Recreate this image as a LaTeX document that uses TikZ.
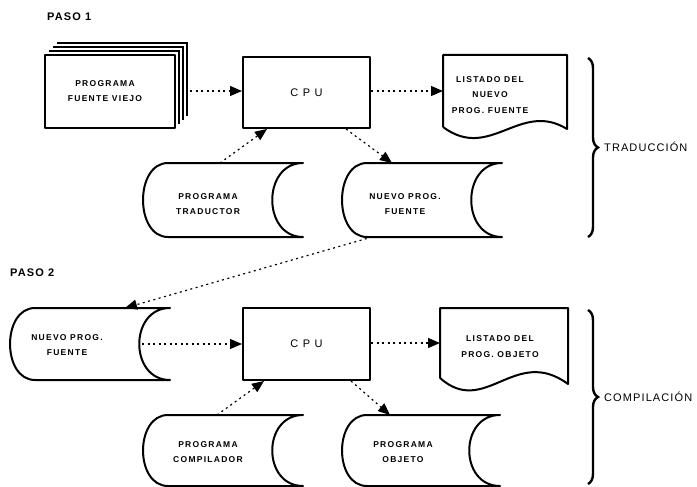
\documentclass[tikz,border=0pt]{standalone}
\usepackage{fontspec}
\setmainfont{Liberation Sans}
\newfontfamily\lblfont[LetterSpace=15]{Liberation Sans}
\newfontfamily\cpufont[LetterSpace=40]{Liberation Sans}
\newfontfamily\sidefont[LetterSpace=10]{Liberation Sans}
\usetikzlibrary{arrows.meta,calc,decorations.pathreplacing}

\tikzset{
  shapeline/.style={line width=2pt, line join=round},
  cpubox/.style={draw, shapeline, minimum width=127pt, minimum height=71pt, inner sep=0pt,
    font=\cpufont\fontsize{11}{13}\selectfont},
  frame/.style={inner sep=0pt, outer sep=0pt, draw=none},
  lbl/.style={align=center, inner sep=0pt, font=\lblfont\bfseries\fontsize{8.5}{15.5}\selectfont},
  conn/.style={line width=1.2pt, dash pattern=on 2pt off 3.5pt, -{Triangle[length=12pt,width=10pt]}},
  bracedeco/.style={line width=2.4pt, decorate, decoration={brace, amplitude=10pt}},
  steplbl/.style={anchor=west, inner sep=0pt, font=\sidefont\bfseries\fontsize{11}{13}\selectfont},
  sidelbl/.style={anchor=west, inner sep=0pt, font=\sidefont\fontsize{11}{13}\selectfont},
  sheet/.style={line width=1.2pt}
}

\newcommand\mytape[4]{\draw[shapeline] (#1+25,#2) -- (#3,#2) .. controls (#3-41,#2) and (#3-41,#4) .. (#3,#4) -- (#1+25,#4) .. controls (#1-8.3,#4) and (#1-8.3,#2) .. cycle;}

\begin{document}
\begin{tikzpicture}[x=1pt,y=-1pt]
\useasboundingbox (0,0) rectangle (697,487);
\fill[white] (0,0) rectangle (697,487);

% ---------------- PASO 1 ----------------
\node[steplbl] (paso1) at (47,17) {PASO 1};

% document stack
\draw[sheet] (57,43) -- (187,43) -- (187,116);
\draw[sheet] (53,47) -- (183,47) -- (183,120);
\draw[sheet] (49,51) -- (179,51) -- (179,124);
\node[draw, shapeline, fill=white, minimum width=130pt, minimum height=73pt, inner sep=0pt] (doc) at (110,91.5) {};
\node[lbl] (docl) at (105,91) {PROGRAMA\\FUENTE VIEJO};

% CPU 1
\node[cpubox] (cpu1) at (306.5,92.5) {CPU};

% listado 1
\node[frame, minimum width=124pt, minimum height=72pt] (L1) at (505,91) {};
\draw[shapeline] (443,127) -- (443,55) -- (567,55) -- (567,129)
  .. controls (520,100) and (490,162) .. (443,127);
\node[lbl] (L1l) at (490,95) {LISTADO DEL\\NUEVO\\PROG. FUENTE};

% tapes step 1
\node[frame, minimum width=160pt, minimum height=74pt] (T1) at (223,200) {};
\mytape{143}{163}{303}{237}
\node[lbl] (T1l) at (208,204) {PROGRAMA\\TRADUCTOR};

\node[frame, minimum width=160pt, minimum height=74pt] (T2) at (422,200) {};
\mytape{342}{163}{502}{237}
\node[lbl] (T2l) at (405,204) {NUEVO PROG.\\FUENTE};

% brace 1
\draw[bracedeco] (588,58) -- (588,237);
\node[sidelbl] (trad) at (604,147) {TRADUCCIÓN};

% connectors step 1
\coordinate (a1) at (190,91);
\draw[conn] (a1) -- (a1 -| cpu1.west);
\draw[conn] (cpu1.east |- L1.west) -- (L1.west);
\draw[conn] ($(T1.north west)+(77,0)$) -- ($(cpu1.south west)+(25,0)$);
\draw[conn] ($(cpu1.south east)+(-25,0)$) -- ($(T2.north west)+(50,0)$);

% ---------------- PASO 2 ----------------
\node[steplbl] (paso2) at (10,273) {PASO 2};

\node[frame, minimum width=160pt, minimum height=72pt] (T3) at (90,344) {};
\mytape{10}{308}{170}{380}
\node[lbl] (T3l) at (67,345) {NUEVO PROG.\\FUENTE};

\node[cpubox, minimum height=72pt] (cpu2) at (306.5,344) {CPU};

\node[frame, minimum width=128pt, minimum height=70pt] (L2) at (504,343) {};
\draw[shapeline] (440,378) -- (440,308) -- (568,308) -- (568,384)
  .. controls (515,345) and (485,418) .. (440,378);
\node[lbl] (L2l) at (500,346.5) {LISTADO DEL\\PROG. OBJETO};

\node[frame, minimum width=160pt, minimum height=71pt] (T4) at (223,450.5) {};
\mytape{143}{415}{303}{486}
\node[lbl] (T4l) at (208,452) {PROGRAMA\\COMPILADOR};

\node[frame, minimum width=158pt, minimum height=71pt] (T5) at (421,450.5) {};
\mytape{342}{415}{500}{486}
\node[lbl] (T5l) at (403,452) {PROGRAMA\\OBJETO};

% brace 2
\draw[bracedeco] (588,310) -- (588,484);
\node[sidelbl] (comp) at (604,397) {COMPILACIÓN};

% connectors step 2
\draw[conn] ($(T2.south west)+(30,0)$) -- ($(T3.north west)+(115,0)$);
\draw[conn] ($(T3.east)+(-28,0)$) -- (T3.east -| cpu2.west);
\draw[conn] (cpu2.east |- L2.west) -- (L2.west);
\draw[conn] ($(T4.north west)+(74,0)$) -- ($(cpu2.south west)+(22,0)$);
\draw[conn] ($(cpu2.south east)+(-20,0)$) -- ($(T5.north west)+(48,0)$);
\end{tikzpicture}
\end{document}
